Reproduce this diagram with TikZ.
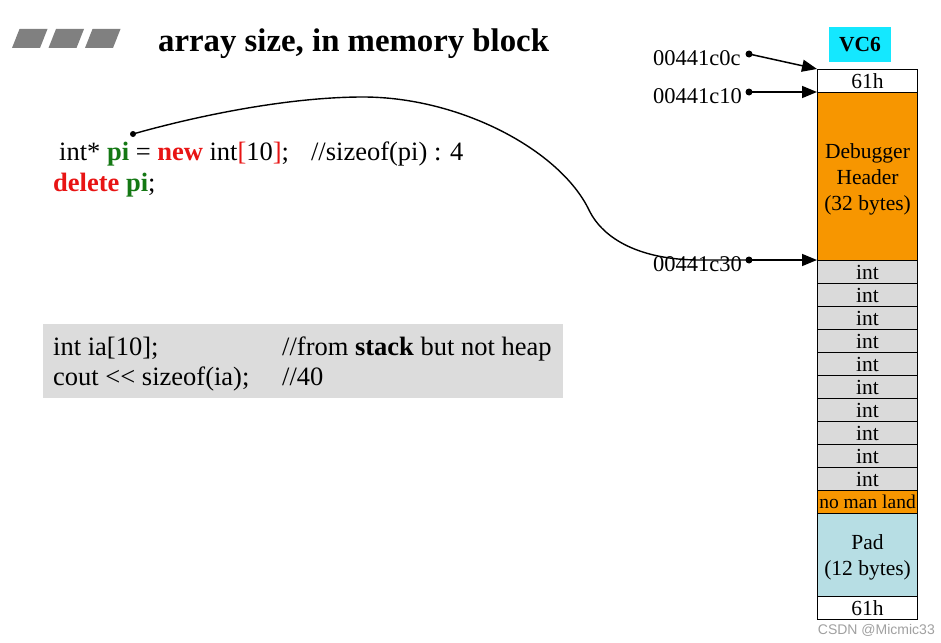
\documentclass[tikz,border=0pt]{standalone}
\usepackage{fontspec}
\setmainfont{Liberation Serif}
\newfontfamily\wmfont{Liberation Sans}
\usetikzlibrary{arrows.meta}
\definecolor{codegreen}{RGB}{20,120,20}
\definecolor{codered}{RGB}{232,20,20}
\definecolor{memorange}{RGB}{247,150,0}
\definecolor{memgray}{RGB}{218,218,218}
\definecolor{padblue}{RGB}{183,222,228}
\definecolor{vccyan}{RGB}{20,232,255}
\definecolor{boxgray}{RGB}{220,220,220}
\definecolor{bargray}{RGB}{128,128,128}
\definecolor{wmgray}{RGB}{160,160,160}
\begin{document}
\begin{tikzpicture}[x=1pt,y=-1pt,
  code/.style={inner sep=0pt, anchor=base west, font=\fontsize{26.5}{30}\selectfont},
  addr/.style={inner sep=0pt, anchor=base west, font=\fontsize{22.5}{26}\selectfont},
  cell/.style={draw, line width=1.1pt, anchor=north west, minimum width=100pt, inner sep=0pt, align=center, font=\fontsize{21.5}{26}\selectfont},
  dot/.style={circle, fill=black, inner sep=0pt, minimum size=7pt},
  arr/.style={line width=1.5pt, -{Triangle[length=15pt,width=12pt]}},
  bar/.style={fill=bargray, draw=none}]
\useasboundingbox (0,0) rectangle (941,642);
% title bars
\foreach \i in {0,1,2}{
  \fill[bargray] ({12+36.5*\i},48) -- ({19.5+36.5*\i},29) -- ({47.5+36.5*\i},29) -- ({40+36.5*\i},48) -- cycle;
}
\node[inner sep=0pt, anchor=base west, font=\fontsize{32.8}{36}\selectfont\bfseries] (title) at (158,52) {array size, in memory block};
% code
\node[code] (line1) at (59,160) {int* \textcolor{codegreen}{\textbf{pi}} = \textcolor{codered}{\textbf{new}} int\textcolor{codered}{[}10\textcolor{codered}{]};\hspace{22pt}//sizeof(pi) : 4};
\node[code] (line2) at (53,191) {\textcolor{codered}{\textbf{delete}} \textcolor{codegreen}{\textbf{pi}};};
% gray box
\node[fill=boxgray, anchor=north west, minimum width=520pt, minimum height=74pt, inner sep=0pt] (gbox) at (43,324) {};
\node[code] (g1a) at (53,355) {int ia[10];};
\node[code] (g1b) at (282,355) {//from \textbf{stack} but not heap};
\node[code] (g2a) at (53,385) {cout <\kern0pt< sizeof(ia);};
\node[code] (g2b) at (282,385) {//40};
% memory column
\node[fill=vccyan, minimum width=62pt, minimum height=35pt, inner sep=0pt, font=\fontsize{21.5}{25}\selectfont\bfseries] (vc6) at (860,44.5) {VC6};
\node[cell, fill=white, minimum height=23pt] (top61) at (817,69) {61h};
\node[cell, fill=memorange, minimum height=168pt, text depth=0pt] (hdr) at (817,92) {Debugger\\Header\\(32 bytes)};
\foreach \k in {0,...,9}{
  \node[cell, fill=memgray, minimum height=23pt] (int\k) at (817,{260+23*\k}) {int};
}
\node[cell, fill=memorange, minimum height=23pt, font=\fontsize{19.5}{23}\selectfont] (noman) at (817,490) {no man land};
\node[cell, fill=padblue, minimum height=83pt, text depth=0pt] (pad) at (817,513) {Pad\\(12 bytes)};
\node[cell, fill=white, minimum height=23pt] (bot61) at (817,596) {61h};
% addresses
\node[addr] (a0c) at (653,65) {00441c0c};
\node[addr] (a10) at (653,103) {00441c10};
\node[addr] (a30) at (653,271) {00441c30};
\node[dot] (d0c) at (749,54) {};
\node[dot] (d10) at (749,92) {};
\node[dot] (d30) at (749,260) {};
\draw[arr] (d0c.center) -- (top61.north west);
\draw[arr] (d10.center) -- (hdr.north west);
\draw[arr] (d30.center) -- (int0.north west);
% pointer curve
\node[dot, minimum size=6pt] (pidot) at (133,134) {};
\draw[line width=1.4pt] (pidot.center) .. controls (200,115) and (290,97) .. (363,97)
  .. controls (460,97) and (560,150) .. (589,210)
  .. controls (603,239) and (640,260) .. (700,260) -- (d30.center);
% watermark
\node[inner sep=0pt, anchor=base east, text=wmgray, font=\fontsize{14}{16}\wmfont] (wm) at (935,634) {CSDN @Micmic33};
\end{tikzpicture}
\end{document}
